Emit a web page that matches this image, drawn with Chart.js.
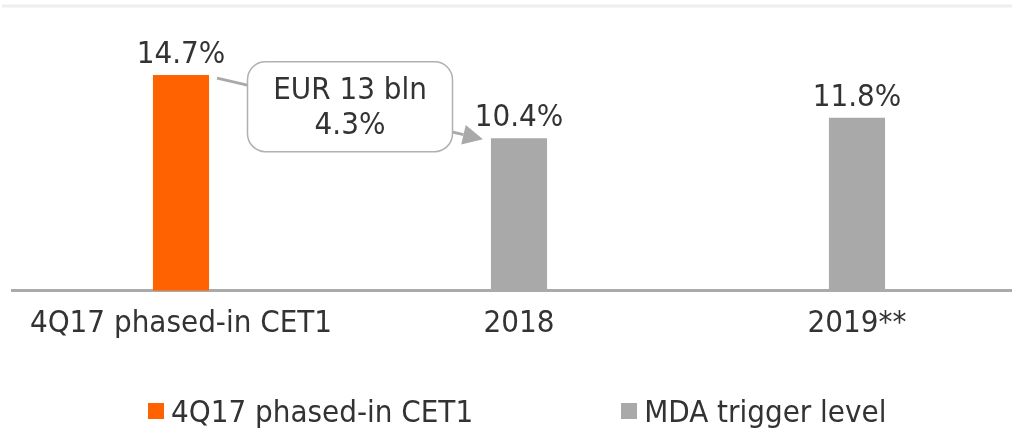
<!DOCTYPE html>
<html>
<head>
<meta charset="utf-8">
<script src="https://cdn.jsdelivr.net/npm/chart.js@4.4.1/dist/chart.umd.min.js"></script>
<style>
  html, body { margin: 0; padding: 0; background: #fff; overflow: hidden; }
  #wrap { position: relative; width: 1026px; height: 433px; }
  #legend {
    position: absolute; left: 148px; top: 393px;
    display: flex; gap: 148px;
    font: 31px "DejaVu Sans Condensed", "Liberation Sans Narrow", "DejaVu Sans", sans-serif;
    color: #333;
  }
  #legend span.item { display: flex; align-items: center; white-space: nowrap; }
  #legend span.box { width: 16px; height: 16px; margin-right: 7px; display: inline-block; }
</style>
</head>
<body>
<div id="wrap">
  <canvas id="capitalChart" width="1026" height="433"></canvas>
  <div id="legend"></div>
</div>
<script>
const categories = ['4Q17 phased-in CET1', '2018', '2019**'];
const cet1Values = [14.7, null, null];
const mdaValues = [null, 10.4, 11.8];
const calloutTitle = 'EUR 13 bln';

const FONT = '"DejaVu Sans Condensed", "Liberation Sans Narrow", "DejaVu Sans", sans-serif';
const ORANGE = '#FF6200';
const GREY = '#A9A9A9';
const TEXT = '#333333';

// value labels, the callout box and the thin top rule
const annotate = {
    id: 'annotate',
    beforeDraw(chart) {
        const ctx = chart.ctx;
        ctx.save();
        ctx.strokeStyle = '#eeeeee';
        ctx.lineWidth = 3;
        ctx.beginPath();
        ctx.moveTo(2, 6);
        ctx.lineTo(chart.width, 6);
        ctx.stroke();
        ctx.restore();
    },
    afterDatasetsDraw(chart) {
        const ctx = chart.ctx;
        ctx.save();
        ctx.font = '31px ' + FONT;
        ctx.fillStyle = TEXT;
        ctx.textAlign = 'center';
        ctx.textBaseline = 'alphabetic';
        chart.data.datasets.forEach((ds, i) => {
            chart.getDatasetMeta(i).data.forEach((bar, j) => {
                if (ds.data[j] == null) return;
                ctx.fillText(ds.data[j].toFixed(1) + '%', bar.x, bar.y - 12);
            });
        });

        // callout between first and second bar
        const b0 = chart.getDatasetMeta(0).data[0];
        const b1 = chart.getDatasetMeta(1).data[1];
        const cx = (b0.x + b1.x) / 2;
        const cy = (b0.y + b1.y) / 2;
        const w = 205, h = 90;
        const left = cx - w / 2, top = cy - h / 2;

        ctx.strokeStyle = GREY;
        ctx.lineWidth = 3;
        ctx.beginPath();
        ctx.moveTo(b0.x + b0.width / 2 + 8, b0.y + 3);
        ctx.lineTo(left + 2, top + 24);
        ctx.stroke();

        const sx = left + w - 2, sy = top + h - 20;
        const tx = b1.x - b1.width / 2 - 8, ty = b1.y + 1;
        const ang = Math.atan2(ty - sy, tx - sx);
        const hl = 20, hw = 10;
        const bx = tx - hl * Math.cos(ang), by = ty - hl * Math.sin(ang);
        ctx.beginPath();
        ctx.moveTo(sx, sy);
        ctx.lineTo(bx, by);
        ctx.stroke();
        ctx.fillStyle = GREY;
        ctx.beginPath();
        ctx.moveTo(tx, ty);
        ctx.lineTo(bx + hw * Math.sin(ang), by - hw * Math.cos(ang));
        ctx.lineTo(bx - hw * Math.sin(ang), by + hw * Math.cos(ang));
        ctx.closePath();
        ctx.fill();

        ctx.fillStyle = '#ffffff';
        ctx.strokeStyle = '#b0b0b0';
        ctx.lineWidth = 1.5;
        ctx.beginPath();
        ctx.roundRect(left, top, w, h, 18);
        ctx.fill();
        ctx.stroke();

        const diff = (cet1Values[0] - mdaValues[1]).toFixed(1) + '%';
        ctx.fillStyle = TEXT;
        ctx.fillText(calloutTitle, cx, cy - 8);
        ctx.fillText(diff, cx, cy + 27);
        ctx.restore();
    }
};

const chart = new Chart(document.getElementById('capitalChart'), {
    type: 'bar',
    data: {
        labels: categories,
        datasets: [{
            label: '4Q17 phased-in CET1',
            data: cet1Values,
            backgroundColor: ORANGE
        }, {
            label: 'MDA trigger level',
            data: mdaValues,
            backgroundColor: GREY
        }]
    },
    options: {
        responsive: false,
        animation: false,
        layout: { padding: { left: 12, right: 0, top: 12, bottom: 75 } },
        datasets: {
            bar: { barPercentage: 0.166, categoryPercentage: 1 }
        },
        scales: {
            x: {
                stacked: true,
                grid: { display: false, drawTicks: false },
                border: { display: true, color: '#aaaaaa', width: 3 },
                ticks: { color: TEXT, font: { size: 31, family: FONT }, padding: 15, maxRotation: 0 }
            },
            y: {
                display: false,
                min: 0,
                max: 19
            }
        },
        plugins: {
            legend: { display: false },
            tooltip: { enabled: false }
        }
    },
    plugins: [annotate]
});

// legend below the chart
const legendEl = document.getElementById('legend');
chart.data.datasets.forEach(ds => {
    const item = document.createElement('span');
    item.className = 'item';
    const box = document.createElement('span');
    box.className = 'box';
    box.style.background = ds.backgroundColor;
    item.appendChild(box);
    item.appendChild(document.createTextNode(ds.label));
    legendEl.appendChild(item);
});
</script>
</body>
</html>
